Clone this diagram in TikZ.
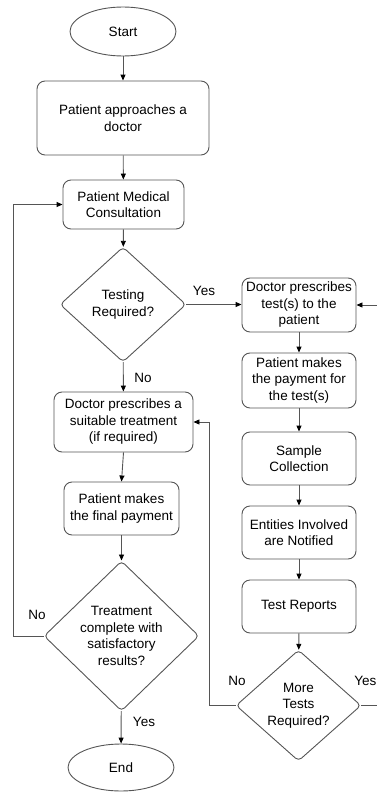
\documentclass[tikz,border=0pt]{standalone}
\usepackage{fontspec}
\setmainfont{Liberation Sans}
\usetikzlibrary{shapes.geometric,arrows.meta}
\definecolor{edge}{HTML}{555555}
\begin{document}
\begin{tikzpicture}[x=1pt,y=-1pt,
  every node/.style={font=\fontsize{13.5}{16.5}\selectfont, align=center, inner sep=0pt},
  box/.style={draw=edge, line width=0.9pt, rounded corners=8pt},
  term/.style={draw=edge, line width=0.9pt, ellipse},
  dia/.style={draw=edge, line width=0.9pt, diamond, rounded corners=4pt},
  arr/.style={draw=edge, line width=0.9pt, -{Triangle[length=6pt,width=5pt,color=black]}},
  lbl/.style={font=\fontsize{13.5}{16.5}\selectfont}
]
\useasboundingbox (0,0) rectangle (377,792);
\clip (0,0) rectangle (377,792);

% left column
\node[term, minimum width=106, minimum height=49] (start) at (123,31.5) {Start};
\node[box, minimum width=172, minimum height=74] (b1) at (123,118) {Patient approaches a\\doctor};
\node[box, minimum width=121, minimum height=49] (b2) at (123.5,204.5) {Patient Medical\\Consultation};
\node[dia, minimum width=126, minimum height=115,
  label={[lbl,align=center]center:Testing\\Required?}] (d1) at (123,304.5) {};
\node[box, minimum width=139, minimum height=60] (b5) at (123.5,422) {Doctor prescribes a\\suitable treatment\\(if required)};
\node[box, minimum width=115, minimum height=53] (b6) at (121.5,508.5) {Patient makes\\the final payment};
\node[dia, minimum width=155, minimum height=150,
  label={[lbl,align=center]center:Treatment\\complete with\\satisfactory\\results?}] (d2) at (121.5,636) {};
\node[term, minimum width=106, minimum height=47] (end) at (121,767.5) {End};

% right column
\node[box, minimum width=114, minimum height=54] (b3) at (299,305) {Doctor prescribes\\test(s) to the\\patient};
\node[box, minimum width=114, minimum height=55] (b4) at (299,380.5) {Patient makes\\the payment for\\the test(s)};
\node[box, minimum width=114, minimum height=53] (b7) at (299,458.5) {Sample\\Collection};
\node[box, minimum width=114, minimum height=53] (b8) at (299,532.5) {Entities Involved\\are Notified};
\node[box, minimum width=114, minimum height=53] (b9) at (299,606.5) {Test Reports};
\node[dia, minimum width=125, minimum height=111,
  label={[lbl,align=center]center:More\\Tests\\Required?}] (d3) at (298.5,705.5) {};

% connectors
\draw[arr] (start) -- (b1);
\draw[arr] (b1) -- (b2);
\draw[arr] (b2) -- (d1);
\draw[arr] (d1.east) -- (b3.west |- d1.east);
\draw[arr] (d1) -- (b5);
\draw[arr] (b5.south) -- (b6.north);
\draw[arr] (b6) -- (d2);
\draw[arr] (d2) -- (end);
\draw[arr] (b3) -- (b4);
\draw[arr] (b4) -- (b7);
\draw[arr] (b7) -- (b8);
\draw[arr] (b8) -- (b9);
\draw[arr] (b9) -- (d3);

\coordinate (lx) at (13,0);
\draw[arr] (d2.west) -- (lx |- d2.west) -- (lx |- b2.west) -- (b2.west);
\coordinate (mx) at (209,0);
\draw[arr] (d3.west) -- (mx |- d3.west) -- (mx |- b5.east) -- (b5.east);
\coordinate (rx) at (377,0);
\draw[arr] (d3.east) -- (rx |- d3.east) -- (rx |- b3.east) -- (b3.east);

% labels
\node[lbl] (yes1) at (204,291) {Yes};
\node[lbl] (no1) at (143,378) {No};
\node[lbl] (no2) at (37,615) {No};
\node[lbl] (yes2) at (144,722) {Yes};
\node[lbl] (no3) at (237,681) {No};
\node[lbl, anchor=east] (yes3) at (376.5,681) {Yes};
\end{tikzpicture}
\end{document}
